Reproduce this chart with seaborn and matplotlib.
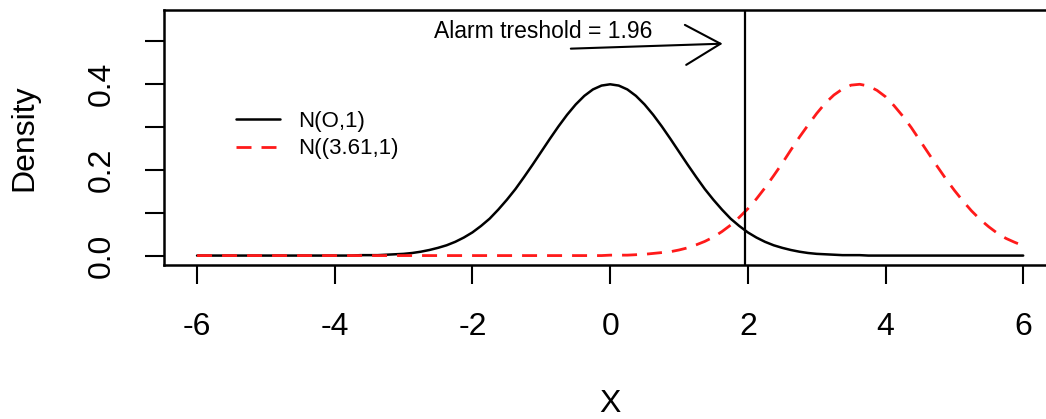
import numpy as np
import pandas as pd
import matplotlib
matplotlib.use("Agg")
import matplotlib.pyplot as plt
import seaborn as sns

# density curves (step 0.125 on x, from -6 to 6)
x_vals = np.linspace(-6, 6, 97)
dens_null = ([0.000] * 16 +
             [0.000, 0.000, 0.000, 0.001, 0.001, 0.001, 0.002, 0.003, 0.004, 0.006,
              0.009, 0.013, 0.018, 0.024, 0.032, 0.042, 0.054, 0.069, 0.086, 0.107,
              0.130, 0.155, 0.183, 0.212, 0.242, 0.272, 0.301, 0.328, 0.352, 0.372,
              0.387, 0.396, 0.399, 0.396, 0.387, 0.372, 0.352, 0.328, 0.301, 0.272,
              0.242, 0.212, 0.183, 0.155, 0.130, 0.107, 0.086, 0.069, 0.054, 0.042,
              0.032, 0.024, 0.018, 0.013, 0.009, 0.006, 0.004, 0.003, 0.002, 0.001,
              0.001, 0.001, 0.000, 0.000, 0.000] +
             [0.000] * 16)
dens_alt = ([0.000] * 48 +
            [0.001, 0.001, 0.001, 0.002, 0.003, 0.005, 0.007, 0.009, 0.013, 0.018,
             0.025, 0.033, 0.043, 0.056, 0.071, 0.089, 0.109, 0.132, 0.158, 0.186,
             0.215, 0.246, 0.276, 0.304, 0.331, 0.355, 0.374, 0.388, 0.397, 0.399,
             0.395, 0.385, 0.370, 0.349, 0.325, 0.298, 0.268, 0.238, 0.208, 0.179,
             0.152, 0.127, 0.104, 0.084, 0.067, 0.052, 0.040, 0.031, 0.023])
labels = ["N(O,1)", "N((3.61,1)"]
threshold = 1.96

df = pd.DataFrame({"x": x_vals, "null": dens_null, "alt": dens_alt})

sns.set_style("white")
plt.rcParams['font.family'] = ['Liberation Sans', 'DejaVu Sans']
plt.rcParams['text.color'] = 'black'
plt.rcParams['axes.labelcolor'] = 'black'

fig = plt.figure(figsize=(10.46, 4.19), dpi=100)
ax = fig.add_axes([0.1568, 0.3675, 0.853, 0.6086])

sns.lineplot(data=df, x="x", y="null", color="black", linewidth=1.8, label=labels[0], ax=ax)
sns.lineplot(data=df, x="x", y="alt", color="#ff1a1a", linewidth=2.0, label=labels[1], ax=ax)
ax.lines[1].set_dashes((5.4, 3.6))

ax.axvline(threshold, color="black", linewidth=1.6)

ax.annotate("", xy=(1.634, 0.4936), xytext=(-0.571, 0.482),
            arrowprops=dict(arrowstyle="->,head_length=1.26,head_width=0.72",
                            mutation_scale=20, color="black", lw=1.5,
                            shrinkA=0, shrinkB=0))
ax.text(-2.56, 0.522, "Alarm treshold = 1.96", fontsize=16.5, va="center", ha="left")

ax.set_xlim(-6.48, 6.48)
ax.set_ylim(-0.022, 0.572)
ax.set_xticks([-6, -4, -2, 0, 2, 4, 6])
ax.set_xticklabels(["-6", "-4", "-2", "0", "2", "4", "6"])
ax.set_yticks([0.0, 0.1, 0.2, 0.3, 0.4, 0.5])
ax.set_yticklabels(["0.0", "", "0.2", "", "0.4", ""], rotation=90, va="center")
ax.tick_params(axis="both", direction="out", length=14, width=1.5, labelsize=23,
               color="black", labelcolor="black", bottom=True, left=True)
ax.tick_params(axis="y", pad=20)
ax.tick_params(axis="x", pad=20)
for sp in ax.spines.values():
    sp.set_linewidth(1.8)
    sp.set_color("black")

ax.set_xlabel("X", fontsize=23, labelpad=34)
ax.set_ylabel("Density", fontsize=23, labelpad=34)

ax.legend(frameon=False, loc="upper left", bbox_to_anchor=(0.0806, 0.605),
          fontsize=16, handlelength=2.0, handletextpad=0.8, labelspacing=0.3,
          borderpad=0, borderaxespad=0)

fig.savefig("out.png", dpi=100)
